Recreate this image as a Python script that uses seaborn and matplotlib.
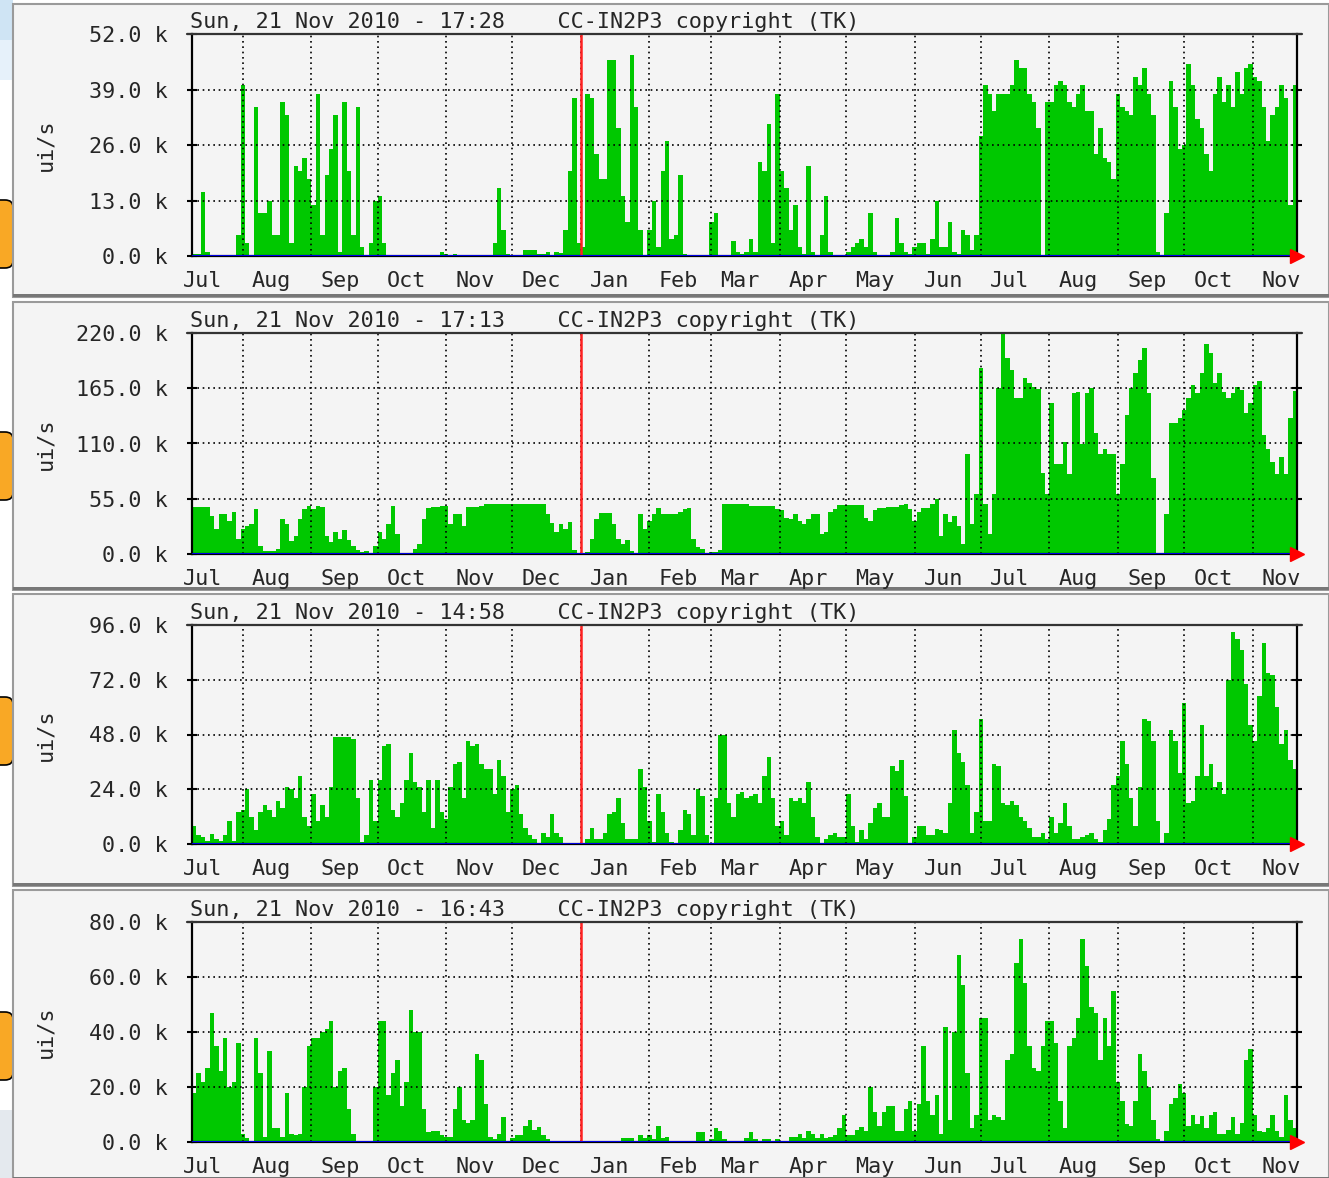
import matplotlib
matplotlib.use("Agg")
import matplotlib.pyplot as plt
import matplotlib.dates as mdates
from matplotlib.patches import Rectangle, FancyBboxPatch
import seaborn as sns
from datetime import datetime, timedelta

# values in k ui/s, one per 2-day bucket starting 2009-07-09
panel1 = [
    0.5, 0.5, 15, 1, 0, 0, 0, 0, 0, 0,
    5, 40, 3, 0, 35, 10, 10, 13, 5, 5,
    36, 33, 3, 21, 20, 23, 18, 12, 38, 5,
    19, 25, 33, 1, 36, 20, 5, 35, 2, 0,
    3, 13, 14, 3, 0, 0, 0, 0, 0, 0,
    0, 0, 0, 0, 0, 0, 1, 0.5, 0.3, 0.5,
    0, 0, 0, 0, 0, 0, 0, 0, 3, 16,
    6, 0.5, 0, 0, 0, 1.5, 1.5, 1.5, 0.5, 0.5,
    1, 0.3, 1, 0.8, 6, 20, 37, 3, 2, 38,
    37, 24, 18, 18, 46, 46, 30, 14, 8, 47,
    35, 6, 0, 6, 13, 2, 20, 27, 4, 5,
    19, 0.5, 0, 0, 0, 0, 0, 8, 10, 0,
    0.3, 0.3, 3.5, 1, 0.5, 1, 4, 1, 22, 20,
    31, 3, 38, 20, 16, 6, 12, 2, 0.5, 21,
    1, 0, 5, 14, 1, 0, 0, 0, 1, 2,
    3, 4, 2, 10, 1, 0, 0.3, 0.3, 1, 9,
    3, 1, 0.5, 2, 3, 3, 0.5, 4, 13, 2,
    2, 8, 1, 0.5, 6, 5, 1.5, 5, 28, 40,
    38, 34, 38, 38, 38, 40, 46, 44, 44, 38,
    36, 30, 0, 36, 36, 40, 41, 40, 36, 35,
    38, 40, 34, 34, 24, 30, 23, 22, 18, 38,
    35, 34, 33, 42, 40, 44, 38, 33, 1, 0,
    10, 41, 35, 25, 26, 45, 40, 32, 30, 24,
    20, 38, 42, 36, 40, 35, 43, 38, 44, 45,
    42, 41, 35, 27, 33, 35, 40, 37, 12, 40,
]
panel2 = [
    47, 47, 47, 47, 38, 25, 40, 40, 33, 42,
    15, 25, 28, 30, 45, 8, 3, 3, 3, 5,
    35, 30, 13, 18, 35, 45, 48, 45, 48, 47,
    18, 12, 22, 15, 24, 14, 8, 4, 2, 3,
    0.5, 8, 22, 15, 30, 48, 20, 0.5, 0.5, 1,
    5, 10, 35, 46, 47, 47, 48, 48, 30, 40,
    40, 28, 47, 47, 47, 48, 50, 50, 50, 50,
    50, 50, 50, 50, 50, 50, 50, 50, 50, 50,
    40, 31, 22, 30, 25, 32, 4, 0, 0, 2,
    15, 35, 41, 41, 41, 30, 15, 10, 14, 3,
    1, 40, 25, 33, 40, 46, 40, 40, 40, 40,
    42, 45, 46, 15, 7, 5, 1, 2, 2, 4,
    50, 50, 50, 50, 50, 50, 48, 48, 48, 48,
    48, 48, 45, 44, 36, 35, 40, 33, 30, 35,
    40, 40, 20, 22, 42, 45, 49, 49, 49, 49,
    49, 49, 36, 33, 44, 46, 46, 47, 47, 47,
    49, 50, 45, 33, 42, 46, 46, 50, 55, 18,
    40, 32, 38, 28, 10, 100, 30, 60, 185, 50,
    20, 60, 165, 219, 195, 183, 155, 155, 175, 170,
    166, 164, 81, 60, 150, 90, 90, 111, 80, 160,
    161, 110, 160, 165, 120, 100, 105, 100, 100, 60,
    90, 138, 165, 180, 193, 205, 160, 76, 0, 0,
    40, 130, 130, 135, 143, 155, 168, 160, 180, 209,
    200, 170, 180, 161, 155, 160, 166, 163, 140, 150,
    168, 172, 118, 105, 92, 80, 97, 80, 135, 162,
]
panel3 = [
    8, 4, 3, 1.5, 4.5, 2, 1.5, 4, 10, 1.5,
    14, 15, 24, 12, 6, 14, 17, 15, 12, 19,
    16, 25, 24, 20, 30, 12, 8, 22, 10, 17,
    12, 25, 47, 47, 47, 47, 46, 20, 1, 4,
    28, 10, 28, 43, 44, 15, 12, 18, 28, 40,
    27, 25, 14, 28, 7, 28, 14, 11, 25, 35,
    36, 20, 45, 43, 44, 35, 33, 33, 22, 37,
    30, 14, 24, 26, 13, 7, 4, 2, 0.5, 5,
    3, 13, 5, 3, 0.3, 0, 0, 0, 0, 2,
    7, 2, 2, 5, 13, 14, 20, 9, 2, 2,
    2, 33, 25, 10, 1, 22, 14, 5, 1, 0.5,
    6, 15, 13, 4, 24, 21, 4, 0.5, 20, 48,
    48, 18, 12, 22, 23, 20, 21, 22, 18, 30,
    38, 20, 8, 10, 4, 20, 19, 20, 18, 27,
    12, 3, 0.5, 2, 4, 5, 3, 3, 22, 8,
    1, 6, 2, 9, 16, 18, 12, 12, 34, 32,
    37, 21, 0.5, 3, 8, 8, 4, 4, 6.6, 6,
    5, 18, 50, 40, 36, 26, 5, 14, 55, 10,
    10, 35, 34, 18, 17, 19, 17, 12, 10, 7,
    3, 3, 5, 2, 12, 5, 9, 18, 8, 2,
    2, 3, 4, 5, 2, 1, 6, 11, 26, 30,
    45, 35, 20, 8, 25, 55, 54, 45, 10, 0,
    5, 50, 45, 31, 62, 18, 19, 30, 52, 30,
    35, 25, 27, 22, 72, 93, 90, 85, 70, 52,
    45, 65, 88, 75, 74, 60, 44, 50, 37, 33,
]
panel4 = [
    18, 25, 22, 27, 47, 35, 26, 38, 20, 22,
    36, 3, 1.5, 0.5, 38, 25, 2, 33, 5, 5,
    2, 18, 3, 2.5, 3, 20, 35, 38, 38, 40,
    41, 44, 20, 26, 27, 12, 3, 0, 0, 0,
    0, 20, 44, 44, 17, 25, 30, 13, 22, 48,
    40, 40, 12, 3.5, 4, 4, 2.5, 2, 2, 12,
    20, 8, 7, 8, 32, 30, 14, 2, 1, 3,
    9, 0.5, 1.5, 2.5, 2.5, 6, 8, 4.5, 5.5, 2.5,
    1, 0.5, 0, 0, 0, 0, 0, 0, 0, 0,
    0, 0, 0, 0, 0, 0, 0, 1.5, 1.5, 1.5,
    0.5, 2.5, 1.5, 2.5, 1, 6, 1.5, 2, 0.5, 0,
    0, 0, 0, 0.5, 3.5, 3.5, 0.5, 1, 5, 4,
    1, 0.5, 0.5, 0.5, 0.5, 1.5, 3.5, 1, 0.3, 1,
    1, 0.3, 1, 0.5, 0.3, 2, 2, 3, 1.5, 4,
    3, 1.5, 3, 1.5, 2, 2.5, 5, 10, 2.5, 2.5,
    4.5, 5.5, 4, 20, 11, 6, 11, 13, 13, 4,
    4, 12, 15, 4, 14, 35, 15, 10, 17, 3,
    42, 8, 40, 68, 57, 25, 5, 10, 45, 45,
    8, 10, 9, 8, 30, 32, 65, 74, 58, 35,
    27, 26, 35, 44, 44, 36, 15, 5, 35, 38,
    45, 74, 64, 49, 47, 30, 45, 35, 55, 22,
    15, 6.5, 6, 15, 32, 26, 20, 8, 1, 0,
    4, 14, 16, 21, 18, 6, 10, 6.7, 9.4, 5,
    10, 11, 3, 3, 4.5, 9, 3, 7, 30, 34,
    10, 4, 3.7, 5, 10, 4, 2, 17, 8, 5,
]

stamps = ["17:28", "17:13", "14:58", "16:43"]
y_max = [52, 220, 96, 80]
series = [panel1, panel2, panel3, panel4]

start = datetime(2009, 7, 9)
bucket_days = 2

W, H = 1329, 1178
plot_boxes = [(192, 34, 1297, 256), (192, 333, 1297, 554),
              (192, 625, 1297, 844), (192, 922, 1297, 1142)]
cards = [(13, 4, 297), (13, 302, 590), (13, 594, 886), (13, 890, 1180)]
tabs = [(200, 268), (432, 500), (697, 765), (1012, 1080)]

sns.set_style("white")
plt.rcParams["font.family"] = ["DejaVu Sans Mono"]
FS = 15.7
GREEN = "#00c800"

fig = plt.figure(figsize=(W / 100, H / 100), dpi=100, facecolor="white")

def fbox(x0, y0, x1, y1):
    return [x0 / W, 1 - y1 / H, (x1 - x0) / W, (y1 - y0) / H]

# slide background bits showing at the left edge
for (y0, y1, c) in [(0, 40, "#cfe4f4"), (40, 80, "#e6f1fa"), (1110, 1178, "#e4e9ee")]:
    fig.patches.append(Rectangle((0, 1 - y1 / H), 13 / W, (y1 - y0) / H,
                                 transform=fig.transFigure, facecolor=c,
                                 edgecolor="none", zorder=-4))
for (t0, t1) in tabs:
    fig.patches.append(FancyBboxPatch((-20 / W, 1 - t1 / H), 33 / W, (t1 - t0) / H,
                                      boxstyle="round,pad=0,rounding_size=0.006",
                                      transform=fig.transFigure, facecolor="#f9a825",
                                      edgecolor="black", lw=1.2, zorder=-3))
for (x0, y0, y1) in cards:
    fig.patches.append(Rectangle((x0 / W, 1 - y1 / H), (W - x0) / W, (y1 - y0) / H,
                                 transform=fig.transFigure, facecolor="#f4f4f4",
                                 edgecolor="#9a9a9a", lw=1.5, zorder=-2))
    fig.patches.append(Rectangle((x0 / W, 1 - y1 / H), (W - x0) / W, 3 / H,
                                 transform=fig.transFigure, facecolor="#777777",
                                 edgecolor="none", zorder=-1))

edges = [mdates.date2num(start + timedelta(days=bucket_days * i)) for i in range(251)]
centers = [(a + b) / 2 for a, b in zip(edges[:-1], edges[1:])]
month_starts = [mdates.date2num(datetime(2009 + (m - 1) // 12, (m - 1) % 12 + 1, 1))
                for m in range(8, 24)]
label_pos = [mdates.date2num(datetime(2009 + (m - 1) // 12, (m - 1) % 12 + 1, 14))
             for m in range(7, 24)]
label_txt = [datetime(2009 + (m - 1) // 12, (m - 1) % 12 + 1, 1).strftime("%b")
             for m in range(7, 24)]
new_year = mdates.date2num(datetime(2010, 1, 1))

for k in range(4):
    ax = fig.add_axes(fbox(*plot_boxes[k]))
    ax.set_facecolor("#f4f4f4")
    vals = [v * 1000 for v in series[k]]
    sns.histplot(x=centers, weights=vals, bins=edges, element="step", fill=True,
                 color=GREEN, alpha=1, linewidth=0, ax=ax, zorder=2)
    top = y_max[k] * 1000
    ax.set_xlim(edges[0], edges[-1])
    ax.set_ylim(0, top)
    yt = [top * i / 4 for i in range(5)]
    ax.set_yticks(yt)
    ax.set_yticklabels([f"{v / 1000:.1f} k" for v in yt], fontsize=FS)
    ax.set_xticks(month_starts)
    ax.set_xticklabels([])
    ax.set_xticks(label_pos, minor=True)
    ax.set_xticklabels(label_txt, minor=True, fontsize=FS)
    ax.tick_params(axis="x", which="major", direction="inout", length=7, width=1.5,
                   color="black")
    ax.tick_params(axis="x", which="minor", length=0, pad=11)
    ax.tick_params(axis="y", which="major", direction="inout", length=7, width=1.5,
                   color="black", pad=14, right=True, left=True)
    ax.set_ylabel("ui/s", fontsize=FS)
    ax.yaxis.set_label_coords(-137 / 1105, 0.5)
    ax.set_xlabel("")
    for x in month_starts:
        ax.axvline(x, color="black", lw=1.2, ls=(0, (1, 2.2)), zorder=3)
    for y in yt[1:-1]:
        ax.axhline(y, color="black", lw=1.2, ls=(0, (1, 2.2)), zorder=3)
    ax.axvline(new_year, color="#ff2020", lw=1.8, zorder=4)
    ax.axhline(0, color="#0000ff", lw=2.0, zorder=4)
    for s in ["left", "right", "bottom"]:
        ax.spines[s].set_color("black")
        ax.spines[s].set_linewidth(1.6)
    ax.spines["top"].set_visible(False)
    ax.plot([-5 / 1105, 1 + 5 / 1105], [1, 1], transform=ax.transAxes,
            color="#333333", lw=1.6, clip_on=False, zorder=5)
    ax.plot([edges[-1]], [0], marker=">", color="red", markersize=10,
            clip_on=False, zorder=6)
    ax.text(-2 / 1105, 1 + 6 / 221, f"Sun, 21 Nov 2010 - {stamps[k]}    CC-IN2P3 copyright (TK)",
            transform=ax.transAxes, ha="left", va="baseline", fontsize=FS)

fig.savefig("out.png", dpi=100, facecolor=fig.get_facecolor())
